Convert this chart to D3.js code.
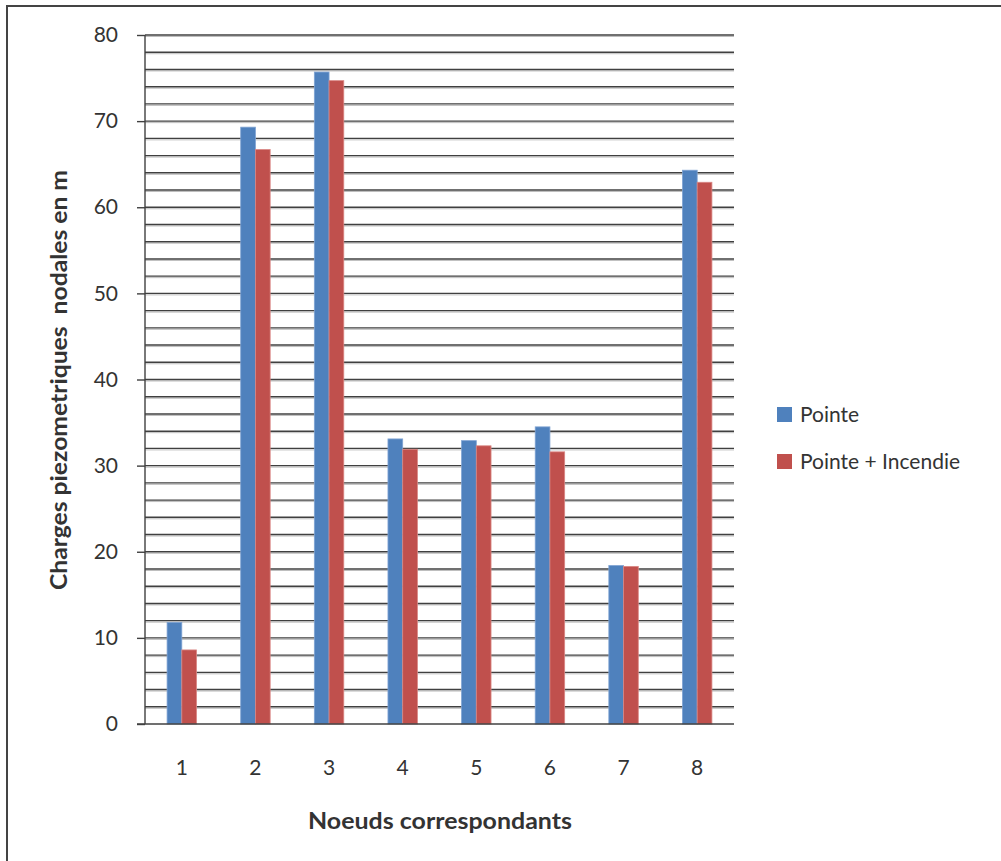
<!DOCTYPE html>
<html>
<head>
<meta charset="utf-8">
<script src="https://cdn.jsdelivr.net/npm/d3@7"></script>
<style>
  html, body { margin: 0; padding: 0; background: #fff; }
  svg { display: block; }
  text { font-family: Lato, "Open Sans", "Liberation Sans", sans-serif; fill: #333; }
</style>
</head>
<body>
<svg id="chart" width="1001" height="861"></svg>
<script>
// Nodal piezometric heads (m) per node, for peak demand and peak + fire flow
const nodes = ["1", "2", "3", "4", "5", "6", "7", "8"];
const pointe = [11.8, 69.3, 75.7, 33.1, 32.9, 34.5, 18.4, 64.3];
const pointeIncendie = [8.6, 66.7, 74.7, 31.9, 32.3, 31.6, 18.3, 62.9];
const seriesNames = ["Pointe", "Pointe + Incendie"];
const seriesColors = ["#4F81BD", "#C0504D"];
const yTicks = [0, 10, 20, 30, 40, 50, 60, 70, 80];

const svg = d3.select("#chart");

// outer frame (left and top edges)
svg.append("line").attr("x1", 7).attr("x2", 7).attr("y1", 5).attr("y2", 861)
  .attr("stroke", "#444").attr("stroke-width", 2);
svg.append("line").attr("x1", 6).attr("x2", 1001).attr("y1", 6).attr("y2", 6)
  .attr("stroke", "#444").attr("stroke-width", 2);

const plot = { left: 145, right: 734, top: 35, bottom: 724 };

const x = d3.scaleBand().domain(nodes).range([plot.left, plot.right]).paddingInner(0.6).paddingOuter(0.3);
const xs = d3.scaleBand().domain(seriesNames).range([0, x.bandwidth()]);
const y = d3.scaleLinear().domain([0, 80]).range([plot.bottom, plot.top]);

// gridlines every 2 m, with a light drop shadow
const grid = d3.range(2, 81, 2);
const g = svg.append("g");
g.selectAll("line.shadow").data(grid).join("line").attr("class", "shadow")
  .attr("x1", plot.left).attr("x2", plot.right)
  .attr("y1", d => y(d) + 1.5).attr("y2", d => y(d) + 1.5)
  .attr("stroke", "#bdbdbd").attr("stroke-width", 1);
g.selectAll("line.grid").data(grid).join("line").attr("class", "grid")
  .attr("x1", plot.left).attr("x2", plot.right)
  .attr("y1", d => y(d)).attr("y2", d => y(d))
  .attr("stroke", "#404040").attr("stroke-width", 1.4);

// bars
const rows = nodes.map((n, i) => ({ node: n, values: [pointe[i], pointeIncendie[i]] }));
const groups = svg.append("g").selectAll("g").data(rows).join("g")
  .attr("transform", d => `translate(${x(d.node)},0)`);
groups.selectAll("rect").data(d => d.values.map((v, k) => ({ v, k })))
  .join("rect")
  .attr("x", d => xs(seriesNames[d.k]))
  .attr("width", xs.bandwidth())
  .attr("y", d => y(d.v))
  .attr("height", d => y(0) - y(d.v))
  .attr("fill", d => seriesColors[d.k])
  .attr("stroke", d => d.k === 0 ? "#7fa3d3" : "#d98784")
  .attr("stroke-width", 0.8);

// y axis
const yAxis = d3.axisLeft(y).tickValues(yTicks).tickSize(8).tickPadding(19);
const ya = svg.append("g").attr("transform", `translate(${plot.left},0)`).call(yAxis);
ya.select(".domain").attr("stroke", "#404040").attr("stroke-width", 1.4)
  .attr("d", `M0,${plot.top}V${plot.bottom}`);
ya.selectAll(".tick line").attr("stroke", "#404040").attr("stroke-width", 1.4);
ya.selectAll(".tick text").attr("font-size", 21).attr("fill", "#333")
  .style("font-family", "Lato, 'Open Sans', sans-serif");

// baseline
svg.append("line").attr("x1", plot.left - 8).attr("x2", plot.right)
  .attr("y1", y(0)).attr("y2", y(0)).attr("stroke", "#404040").attr("stroke-width", 1.4);

// x axis labels
const xAxis = d3.axisBottom(x).tickSize(0).tickPadding(36);
const xa = svg.append("g").attr("transform", `translate(0,${plot.bottom})`).call(xAxis);
xa.select(".domain").remove();
xa.selectAll(".tick text").attr("font-size", 21).attr("fill", "#333")
  .style("font-family", "Lato, 'Open Sans', sans-serif");

// axis titles
svg.append("text").attr("x", 440).attr("y", 829).attr("text-anchor", "middle")
  .attr("font-size", 22).attr("font-weight", "bold").attr("fill", "#222")
  .attr("textLength", 264).attr("lengthAdjust", "spacingAndGlyphs")
  .text("Noeuds correspondants");
svg.append("text").attr("transform", "translate(67,380) rotate(-90)").attr("text-anchor", "middle")
  .attr("font-size", 22).attr("font-weight", "bold").attr("fill", "#222")
  .attr("xml:space", "preserve")
  .attr("textLength", 420).attr("lengthAdjust", "spacingAndGlyphs")
  .text("Charges piezometriques  nodales en m");

// legend
const legend = svg.append("g").selectAll("g").data(seriesNames).join("g")
  .attr("transform", (d, i) => `translate(777,${407 + i * 47})`);
legend.append("rect").attr("width", 15).attr("height", 15).attr("fill", (d, i) => seriesColors[i]);
legend.append("text").attr("x", 23).attr("y", 15).attr("font-size", 21).attr("fill", "#333").text(d => d);
</script>
</body>
</html>
